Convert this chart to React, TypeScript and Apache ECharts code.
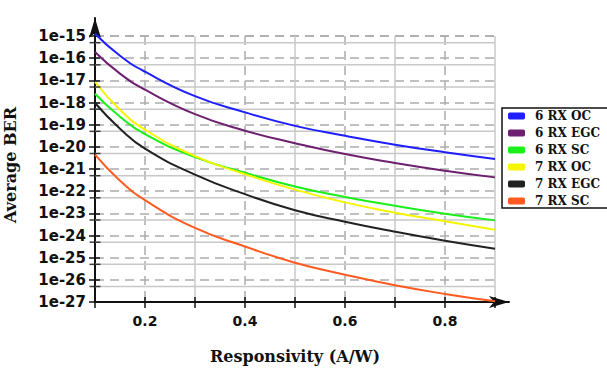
import React, { useEffect, useRef } from "react";
import * as echarts from "echarts";

const responsivity = [0.1, 0.15, 0.2, 0.3, 0.4, 0.5, 0.6, 0.7, 0.8, 0.9];
const ber6RxOC = [1.27e-15, 1.29e-16, 2.45e-17, 1.93e-18, 3.58e-19, 8.81e-20, 3.15e-20, 1.25e-20, 5.68e-21, 2.83e-21];
const ber6RxEGC = [1.9e-16, 2.0e-17, 3.79e-18, 2.97e-19, 5.35e-20, 1.46e-20, 4.71e-21, 1.87e-21, 8.4e-22, 4.19e-22];
const ber6RxSC = [2.49e-18, 2.29e-19, 3.72e-20, 3.41e-21, 6.82e-22, 1.64e-22, 5.47e-23, 2.19e-23, 9.66e-24, 4.81e-24];
const ber7RxOC = [8.41e-18, 4.74e-19, 5.94e-20, 3.79e-21, 5.83e-22, 1.17e-22, 3.12e-23, 1.07e-23, 4.43e-24, 1.83e-24];
const ber7RxEGC = [9.51e-19, 6.59e-20, 8.26e-21, 5.55e-22, 7.32e-23, 1.39e-23, 4.21e-24, 1.49e-24, 5.85e-25, 2.55e-25];
const ber7RxSC = [4.43e-21, 2.97e-22, 3.93e-23, 2.19e-24, 3.2e-25, 5.94e-26, 1.71e-26, 5.74e-27, 2.3e-27, 1.07e-27];

const seriesNames = ["6 RX OC", "6 RX EGC", "6 RX SC", "7 RX OC", "7 RX EGC", "7 RX SC"];
const seriesValues = [ber6RxOC, ber6RxEGC, ber6RxSC, ber7RxOC, ber7RxEGC, ber7RxSC];
const seriesColors = ["#1e1eff", "#6e1f70", "#1aef1a", "#f5f500", "#222222", "#ff5a1f"];

const xTickLabels = ["0.2", "0.4", "0.6", "0.8"];
const minorGridValues = [5e-16, 5e-17, 5e-18, 5e-19, 5e-20, 5e-21, 5e-22, 5e-23, 5e-24, 5e-25, 5e-26, 5e-27];

const X_MIN = 0.1;
const X_MAX = 0.9;
const Y_MIN = 1e-27;
const Y_MAX = 1e-15;

export default function App() {
  const ref = useRef<HTMLDivElement>(null);
  useEffect(() => {
    if (!ref.current) return;
    const chart = echarts.init(ref.current, undefined, { renderer: "svg" });
    const labelFont = { fontFamily: "DejaVu Sans", fontWeight: "bold" as const, fontSize: 15, color: "#111" };
    const nameFont = { fontFamily: "DejaVu Serif", fontWeight: "bold" as const, fontSize: 16, color: "#111" };
    const plotGrid = { left: 95, right: 112, top: 36, bottom: 66, containLabel: false, outerBoundsMode: "none" };
    const hidden = { show: false };
    const lines = seriesNames.map((name, i) => ({
      name,
      type: "line",
      xAxisIndex: 2,
      yAxisIndex: 2,
      data: responsivity.map((x, j) => [x, seriesValues[i][j]]),
      showSymbol: false,
      symbol: "none",
      smooth: 0.5,
      clip: false,
      z: 4,
      lineStyle: { color: seriesColors[i], width: 2 },
      itemStyle: { color: seriesColors[i] },
    }));
    const minorLineData: any[] = [];
    minorGridValues.forEach((v) => {
      minorLineData.push([X_MIN, v], [X_MAX, v], [X_MAX, "-"]);
    });
    chart.setOption({
      animation: false,
      backgroundColor: "#fff",
      grid: [
        { ...plotGrid },
        { left: 95, right: 98, top: 18, bottom: 66, containLabel: false, outerBoundsMode: "none" },
        { ...plotGrid },
        { ...plotGrid },
      ],
      legend: {
        data: seriesNames,
        orient: "vertical",
        left: 502,
        top: 108,
        icon: "roundRect",
        itemWidth: 17,
        itemHeight: 7,
        itemGap: 5,
        borderColor: "#111",
        borderWidth: 1.5,
        borderRadius: 0,
        padding: [2, 30, 1, 6],
        textStyle: { fontFamily: "DejaVu Serif", fontWeight: "bold", fontSize: 12, color: "#111", padding: [0, 0, 0, 5] },
      },
      xAxis: [
        {
          type: "value", gridIndex: 0, position: "bottom", min: X_MIN, max: X_MAX, interval: 0.2,
          axisLine: { show: false, onZero: false }, axisTick: hidden, axisLabel: hidden,
          splitLine: { show: true, lineStyle: { color: "#c8c8c8", width: 1.5, type: "solid" } },
          minorTick: { show: false, splitNumber: 2 },
          minorSplitLine: { show: true, lineStyle: { color: "#acacac", width: 1.5, type: [9, 6] } },
        },
        {
          type: "value", gridIndex: 1, position: "bottom", min: 0, max: 1,
          axisLine: { show: true, onZero: false, symbol: ["none", "arrow"], symbolSize: [9, 20], lineStyle: { color: "#111", width: 2 } },
          axisTick: hidden, axisLabel: hidden, splitLine: hidden,
        },
        {
          type: "value", gridIndex: 2, position: "bottom", min: X_MIN, max: X_MAX, interval: 0.1,
          name: "Responsivity (A/W)", nameLocation: "middle", nameGap: 46, nameTextStyle: nameFont,
          axisLine: { show: false, onZero: false },
          axisTick: { show: true, length: 6, lineStyle: { color: "#111", width: 1.5 } },
          axisLabel: {
            ...labelFont, fontSize: 14, margin: 12,
            formatter: (v: number) => { const s = v.toFixed(1); return xTickLabels.includes(s) ? s : ""; },
          },
          splitLine: hidden,
        },
        {
          type: "value", gridIndex: 3, position: "bottom", min: X_MIN, max: X_MAX, interval: 0.1,
          axisLine: { show: false, onZero: false },
          axisTick: { show: true, inside: true, length: 5, lineStyle: { color: "#111", width: 1.5 } },
          axisLabel: hidden, splitLine: hidden,
        },
      ],
      yAxis: [
        {
          type: "log", logBase: 10, gridIndex: 0, position: "left", min: Y_MIN, max: Y_MAX, interval: 1,
          axisLine: { show: false, onZero: false }, axisTick: hidden, axisLabel: hidden,
          splitLine: { show: true, lineStyle: { color: "#acacac", width: 1.5, type: [9, 6] } },
        },
        {
          type: "value", gridIndex: 1, position: "left", min: 0, max: 1,
          axisLine: { show: true, onZero: false, symbol: ["none", "arrow"], symbolSize: [9, 20], lineStyle: { color: "#111", width: 2 } },
          axisTick: hidden, axisLabel: hidden, splitLine: hidden,
        },
        {
          type: "log", logBase: 10, gridIndex: 2, position: "left", min: Y_MIN, max: Y_MAX, interval: 1,
          axisLine: { show: false, onZero: false },
          axisTick: { show: true, inside: true, length: 5, lineStyle: { color: "#111", width: 1.5 } },
          axisLabel: hidden, splitLine: hidden,
        },
        {
          // exponent axis: same geometry as the log axis, used for the "1e-n" labels
          type: "value", gridIndex: 3, position: "left",
          min: Math.round(Math.log10(Y_MIN)), max: Math.round(Math.log10(Y_MAX)), interval: 1,
          name: "Average BER", nameLocation: "middle", nameGap: 77,
          nameTextStyle: { ...nameFont, padding: [0, 0, 0, 8] },
          axisLine: { show: false, onZero: false },
          axisTick: { show: true, length: 6, lineStyle: { color: "#111", width: 1.5 } },
          axisLabel: {
            ...labelFont, margin: 9, showMinLabel: true, showMaxLabel: true,
            formatter: (v: number) => `1e${Math.round(v)}`,
          },
          splitLine: hidden,
        },
      ],
      series: [
        {
          type: "line", xAxisIndex: 2, yAxisIndex: 2, data: minorLineData, z: 1, silent: true,
          symbol: "none", showSymbol: false, connectNulls: false,
          lineStyle: { color: "#c8c8c8", width: 1.5, type: "solid" },
        },
        {
          type: "scatter", xAxisIndex: 2, yAxisIndex: 2, z: 6, silent: true, clip: false,
          symbol: "rect", symbolSize: [11, 1.5], itemStyle: { color: "#111" },
          data: minorGridValues.map((v) => [X_MIN, v]),
        },
        ...lines,
      ],
    });
    return () => chart.dispose();
  }, []);
  return <div ref={ref} style={{ position: "fixed", left: 0, top: 0, width: 607, height: 368, background: "#fff" }} />;
}
